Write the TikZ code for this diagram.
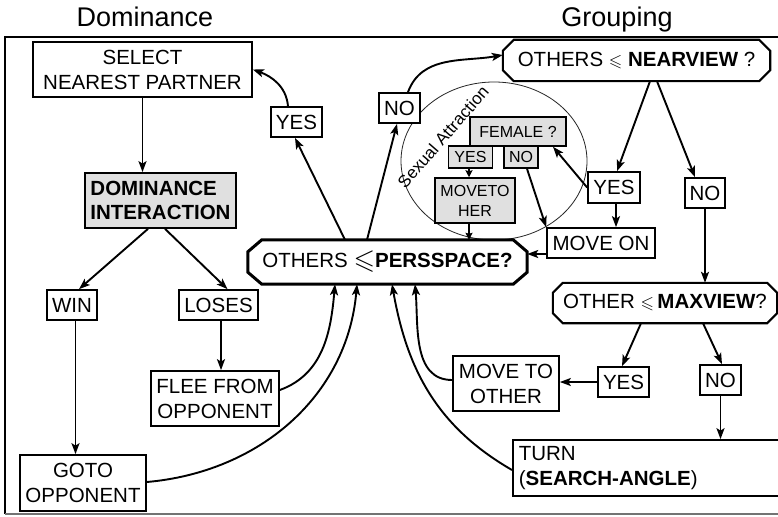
\documentclass[tikz,border=0pt]{standalone}
\usepackage{fontspec}
\setmainfont{Liberation Sans}
\usepackage{amssymb}
\usepackage{graphicx}
\usetikzlibrary{arrows.meta}

% chamfered frame drawn around a (borderless) node: node, x-cut, y-cut, line width
\newcommand\octoframe[4]{%
  \draw[line width=#4, line join=miter]
    ([xshift=#2]#1.north west) -- ([xshift=-#2]#1.north east) --
    ([yshift=-#3]#1.north east) -- ([yshift=#3]#1.south east) --
    ([xshift=-#2]#1.south east) -- ([xshift=#2]#1.south west) --
    ([yshift=#3]#1.south west) -- ([yshift=-#3]#1.north west) -- cycle;}

\tikzset{
  base/.style={inner sep=0pt, text=black, font=\fontsize{20.5}{25}\selectfont},
  dim/.style 2 args={minimum width=#1pt, minimum height=#2pt},
  box/.style={base, draw, fill=white, line width=1.7pt, align=center},
  gbox/.style={box, fill=black!12, line width=1.5pt, font=\fontsize{16}{20}\selectfont},
  plain/.style={base, align=center},
  title/.style={inner sep=0pt, anchor=base, font=\fontsize{27}{30}\selectfont},
  conn/.style={line width=1.9pt, -{Stealth[length=11pt,width=8pt,inset=2.5pt]}},
  shortconn/.style={line width=1.6pt, -{Stealth[length=7pt,width=7pt,inset=1pt]}},
}

\begin{document}
\begin{tikzpicture}[x=1pt, y=-1pt]
\clip (0,0) rectangle (778,516);
\fill[white] (0,0) rectangle (778,516);

% section titles and frame
\node[title] (tdom) at (145,27) {Dominance};
\node[title] (tgrp) at (617,27) {Grouping};
\draw[line width=1.6pt] (790,37) -- (5,37) -- (5,514);
\draw[line width=1.4pt, black!55] (5,514) -- (790,514);

% sexual attraction module
\draw[line width=0.8pt, black!85] (494,161) ellipse [x radius=93pt, y radius=79pt];
\node[base, rotate=49, font=\fontsize{17}{18}\selectfont] (sa) at (443,137) {Sexual Attraction};

% dominance side
\node[box, dim={219}{55}] (sel) at (142.5,69.5) {SELECT\\NEAREST PARTNER};
\node[box, fill=black!12, dim={151}{55}, align=left,
      font=\fontsize{20.5}{24}\selectfont\bfseries] (dom) at (160.5,200.5) {DOMINANCE\\INTERACTION};
\node[box, dim={50}{30}] (win) at (72,305) {WIN};
\node[box, dim={79}{30}] (loses) at (218.5,305) {LOSES};
\node[box, dim={128}{55}] (flee) at (215,398.5) {FLEE FROM\\OPPONENT};
\node[box, dim={126}{56}] (goto) at (83,483) {GOTO\\OPPONENT};
\node[box, dim={51}{30}] (yesA) at (296.5,122) {YES};
\node[box, dim={41}{30}] (noA) at (399.5,108) {NO};

% central decision
\node[plain, dim={279}{44}] (pers) at (387.5,262)
  {OTHERS \raisebox{-1pt}{\scalebox{1.35}{$\leqslant$}}\textbf{PERSSPACE?}};
\octoframe{pers}{14pt}{12pt}{3pt}

% grouping side
\node[plain, dim={267}{41}] (near) at (636.5,60.5)
  {OTHERS {\fontsize{17.28}{17}\selectfont$\leqslant$} \textbf{NEARVIEW} ?};
\octoframe{near}{11pt}{11pt}{2.1pt}
\node[gbox, dim={96}{29}] (female) at (518,131.5) {FEMALE ?};
\node[gbox, dim={44}{22}] (yesB) at (470.5,157) {YES};
\node[gbox, dim={34}{22}] (noB) at (521,157) {NO};
\node[gbox, dim={80}{45}] (movher) at (475,200.5) {MOVETO\\HER};
\node[box, dim={52}{31}] (yesC) at (614,187.5) {YES};
\node[box, dim={108}{30}] (moveon) at (601,243) {MOVE ON};
\node[box, dim={40}{30}] (noC) at (705,193) {NO};
\node[plain, dim={224}{40}] (maxv) at (665,303)
  {OTHER {\fontsize{17.28}{17}\selectfont$\leqslant$}\,\textbf{MAXVIEW}?};
\octoframe{maxv}{10pt}{10pt}{2.1pt}
\node[box, dim={51}{30}] (yesD) at (623.5,382) {YES};
\node[box, dim={41}{30}] (noD) at (720.5,380) {NO};
\node[box, dim={106}{55}] (mto) at (506,383.5) {MOVE TO\\OTHER};
\node[box, anchor=west, text width=266pt, inner xsep=6pt, minimum height=56pt,
      align=left] (turn) at (512,468) {TURN\\(\textbf{SEARCH-ANGLE})};

% dominance connectors
\draw[conn] (sel.south) -- (sel.south |- dom.north);
\draw[conn] ([xshift=-12.5pt]dom.south) -- ([xshift=7pt]win.north);
\draw[conn] ([xshift=4.5pt]dom.south) -- ([xshift=9pt]loses.north);
\draw[conn] ([xshift=3.5pt]win.south) -- ([xshift=3.5pt]win.south |- goto.north);
\draw[conn] ([xshift=2.5pt]loses.south) -- ([xshift=2.5pt]loses.south |- flee.north);
\draw[conn] ([yshift=8.5pt]flee.east) to[out=20,in=-95] ([xshift=-52.5pt]pers.south);
\draw[conn] ([yshift=1pt]goto.east) to[out=5,in=-95] ([xshift=-30.5pt]pers.south);
\draw[conn] ([xshift=-42.5pt]pers.north) -- ([xshift=-1.5pt]yesA.south);
\draw[conn] ([xshift=-8.5pt]yesA.north) to[out=95,in=-20] (sel.east);

% grouping connectors
\draw[conn] ([xshift=-20.5pt]pers.north) -- ([xshift=-2.5pt]noA.south);
\draw[conn] ([xshift=8.5pt]noA.north) to[out=70,in=190] ([yshift=5.5pt]near.west);
\draw[conn] ([xshift=13.5pt]near.south) -- ([xshift=3pt]yesC.north);
\draw[conn] ([xshift=20.5pt]near.south) -- ([xshift=-10pt]noC.north);
\draw[conn] (yesC.west) -- ([xshift=35pt]female.south);
\draw[conn] ([xshift=2pt]yesC.south) -- ([xshift=2pt]yesC.south |- moveon.north);
\draw[conn] ([xshift=6pt]noB.south) -- (moveon.north west);
\draw[shortconn] ([xshift=-1.5pt]yesB.south) -- ([xshift=-1.5pt]yesB.south |- movher.north);
\draw[shortconn] ([xshift=-6pt]movher.south) -- ([xshift=-6pt]movher.south |- pers.north);
\draw[conn] ([yshift=-11pt]moveon.west) -- ([yshift=-11pt]moveon.west -| pers.east);
\draw[conn] (noC.south) -- (noC.south |- maxv.north);
\draw[conn] ([xshift=-24pt]maxv.south) -- ([xshift=-1.5pt]yesD.north);
\draw[conn] ([xshift=38pt]maxv.south) -- ([xshift=1.5pt]noD.north);
\draw[conn] (yesD.west) -- (yesD.west -| mto.east);
\draw[conn] (noD.south) -- (noD.south |- turn.north);
\draw[conn] ([yshift=3.5pt]mto.west) to[out=180,in=-85] ([xshift=27.5pt]pers.south);
\draw[conn] ([yshift=-2pt]turn.west) to[out=150,in=-80] ([xshift=4.5pt]pers.south);
\end{tikzpicture}
\end{document}
